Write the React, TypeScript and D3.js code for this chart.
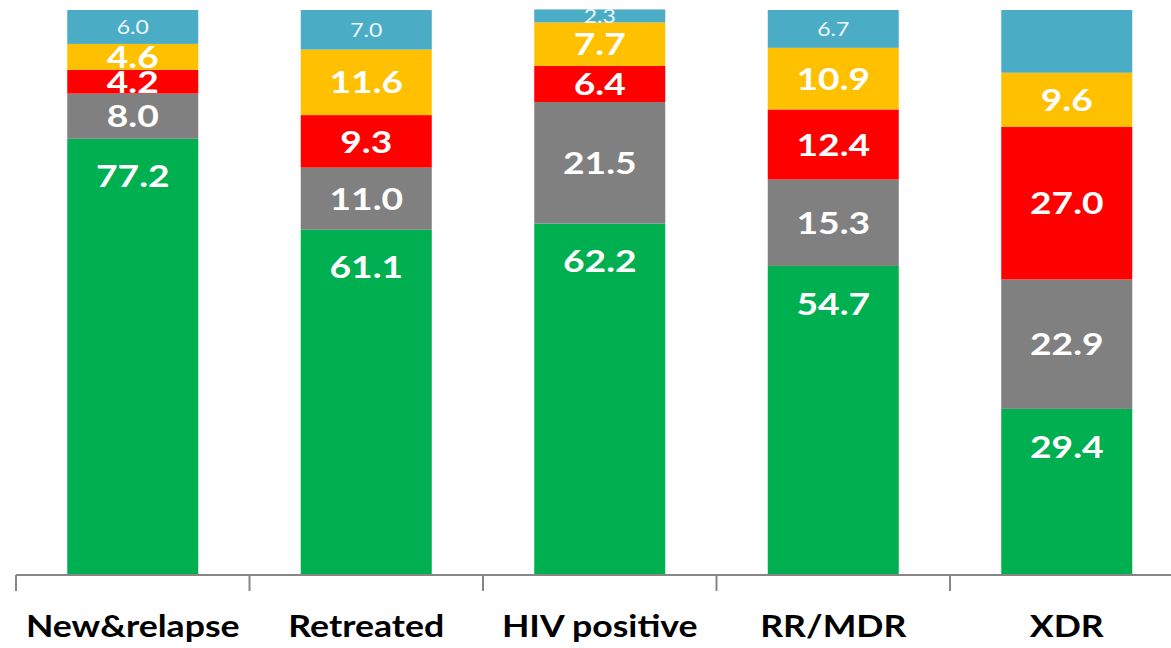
import React from 'react'
import * as d3 from 'd3'

const categories = ['New&relapse', 'Retreated', 'HIV positive', 'RR/MDR', 'XDR']
const seriesKeys = ['success', 'died', 'failed', 'lost', 'notEvaluated']
const success = [77.2, 61.1, 62.2, 54.7, 29.4]
const died = [8.0, 11.0, 21.5, 15.3, 22.9]
const failed = [4.2, 9.3, 6.4, 12.4, 27.0]
const lost = [4.6, 11.6, 7.7, 10.9, 9.6]
const notEvaluated = [6.0, 7.0, 2.3, 6.7, 11.1]
const showLabel = [true, true, true, true, false]

const colors: Record<string, string> = {
  success: '#00b050',
  died: '#808080',
  failed: '#ff0000',
  lost: '#ffc000',
  notEvaluated: '#4bacc6',
}

const W = 1171
const H = 648

export default () => {
  const rows = categories.map((c, i) => ({
    cat: c,
    success: success[i],
    died: died[i],
    failed: failed[i],
    lost: lost[i],
    notEvaluated: notEvaluated[i],
  }))

  const stacked = d3.stack<any>().keys(seriesKeys)(rows)

  const x = d3.scaleBand().domain(categories).range([16, 16 + 233.5 * 5]).paddingInner(0).paddingOuter(0)
  const y = d3.scaleLinear().domain([0, 100]).range([575, 10])
  const barW = 131

  const font = 'Lato, "Open Sans", sans-serif'

  return (
    <svg width={W} height={H} style={{ position: 'absolute', left: 0, top: 0, background: '#fff' }}>
      {stacked.map((layer) => (
        <g key={layer.key}>
          {layer.map((d, i) => {
            const cx = (x(categories[i]) as number) + x.bandwidth() / 2
            const y0 = y(d[0])
            const y1 = y(d[1])
            const small = layer.key === 'notEvaluated'
            const val = d[1] - d[0]
            // green labels sit near the top of their segment, the rest are centred
            const ly = layer.key === 'success' ? y1 + 37.5 : (y0 + y1) / 2
            return (
              <g key={i}>
                <rect x={cx - barW / 2} y={y1} width={barW} height={y0 - y1} fill={colors[layer.key]} />
                {!(small && !showLabel[i]) && (
                  <text
                    transform={`translate(${cx},${ly}) scale(${small ? 1.15 : 1.2},1)`}
                    dy="0.36em"
                    textAnchor="middle"
                    fill={small ? '#eef7fa' : '#fff'}
                    fontFamily={font}
                    fontWeight={small ? 400 : 700}
                    fontSize={small ? 20 : 31}
                  >
                    {val.toFixed(1)}
                  </text>
                )}
              </g>
            )
          })}
        </g>
      ))}
      <line x1={16} x2={W} y1={575} y2={575} stroke="#868686" strokeWidth={2} />
      {d3.range(categories.length + 1).map((k) => {
        const tx = 16 + x.step() * k
        return <line key={k} x1={tx} x2={tx} y1={575} y2={591} stroke="#868686" strokeWidth={2} />
      })}
      {categories.map((c) => (
        <text
          key={c}
          transform={`translate(${(x(c) as number) + x.bandwidth() / 2},637) scale(1.15,1)`}
          textAnchor="middle"
          fontFamily={font}
          fontWeight={700}
          fontSize={31}
          fill="#000"
        >
          {c}
        </text>
      ))}
    </svg>
  )
}
